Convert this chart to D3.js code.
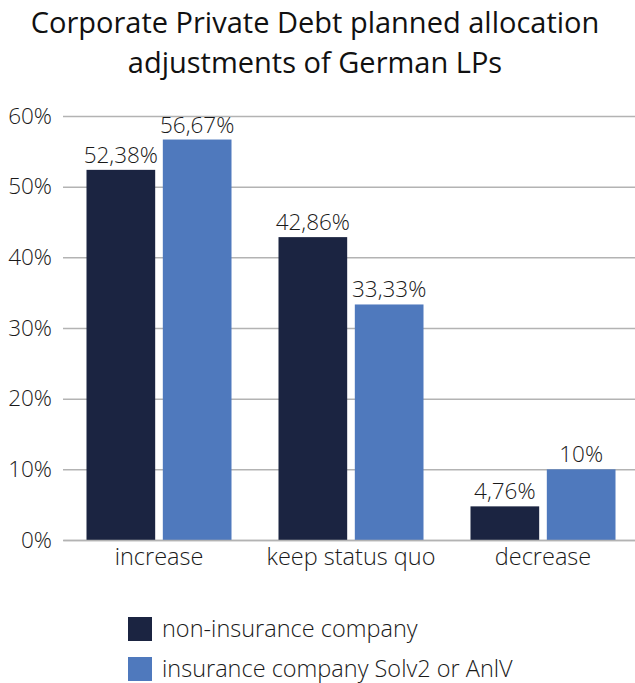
<!DOCTYPE html>
<html>
<head>
<meta charset="utf-8">
<script src="https://cdn.jsdelivr.net/npm/d3@7"></script>
<style>
  html, body { margin: 0; padding: 0; background: #fff; }
  svg { display: block; font-family: "Open Sans", "Noto Sans", sans-serif; }
</style>
</head>
<body>
<svg id="chart" width="635" height="683"></svg>
<script>
// Chart data
const titleLines = ["Corporate Private Debt planned allocation", "adjustments of German LPs"];
const categories = ["increase", "keep status quo", "decrease"];
const seriesNames = ["non-insurance company", "insurance company Solv2 or AnlV"];
const nonInsurance = [52.38, 42.86, 4.76];
const insurance = [56.67, 33.33, 10];
const valueLabels = [["52,38%", "42,86%", "4,76%"], ["56,67%", "33,33%", "10%"]];
const yTicks = [0, 10, 20, 30, 40, 50, 60];
const colors = ["#1b2441", "#4f79bd"];

const svg = d3.select("#chart");
const margin = { top: 116, bottom: 143, left: 63, right: -4 };
const W = 635, H = 683;
const textColor = "#1a1a1a";

const x0 = d3.scaleBand().domain(categories).range([margin.left, W - margin.right]).paddingInner(0).paddingOuter(0);
const x1 = d3.scaleBand().domain([0, 1]).range([23.5, x0.bandwidth() - 23.5]).paddingInner(0.1);
const y = d3.scaleLinear().domain([0, 60]).range([H - margin.bottom, margin.top]);

// Title
svg.append("g").selectAll("text").data(titleLines).join("text")
  .attr("x", 315).attr("y", (d, i) => 33 + i * 40)
  .attr("text-anchor", "middle")
  .attr("font-size", 29).attr("fill", "#111")
  .text(d => d);

// Gridlines and y tick labels
const yAxis = svg.append("g").attr("transform", `translate(${margin.left},0)`)
  .call(d3.axisLeft(y).tickValues(yTicks).tickFormat(d => d + "%").tickSize(-(W - margin.left)).tickPadding(11));
yAxis.select(".domain").remove();
yAxis.selectAll(".tick line").attr("stroke", "#b3b3b3").attr("stroke-width", 1.5);
yAxis.selectAll(".tick text").attr("font-size", 22.5).attr("font-weight", 300).attr("fill", textColor)
  .attr("font-family", "'Open Sans', 'Noto Sans', sans-serif");

// Bars
const series = [nonInsurance, insurance];
const groups = svg.append("g").selectAll("g").data(categories).join("g")
  .attr("transform", d => `translate(${x0(d)},0)`);

groups.selectAll("rect").data((c, ci) => series.map((s, si) => ({ si, v: s[ci], ci })))
  .join("rect")
  .attr("x", d => x1(d.si))
  .attr("width", x1.bandwidth())
  .attr("y", d => y(d.v))
  .attr("height", d => y(0) - y(d.v))
  .attr("fill", d => colors[d.si]);

groups.selectAll("text.val").data((c, ci) => series.map((s, si) => ({ si, v: s[ci], ci })))
  .join("text").attr("class", "val")
  .attr("x", d => x1(d.si) + x1.bandwidth() / 2)
  .attr("y", d => y(d.v) - 7)
  .attr("text-anchor", "middle")
  .attr("font-size", 22.5).attr("font-weight", 300).attr("fill", textColor)
  .text(d => valueLabels[d.si][d.ci]);

// Category axis labels
const xAxis = svg.append("g").attr("transform", `translate(0,${y(0)})`)
  .call(d3.axisBottom(x0).tickSize(0).tickPadding(8));
xAxis.select(".domain").attr("stroke", "#b3b3b3").attr("stroke-width", 1.5);
xAxis.selectAll(".tick text").attr("font-size", 23.5).attr("font-weight", 300).attr("fill", textColor)
  .attr("font-family", "'Open Sans', 'Noto Sans', sans-serif");

// Legend
const legend = svg.append("g").selectAll("g").data(seriesNames).join("g")
  .attr("transform", (d, i) => `translate(128,${617 + i * 40})`);
legend.append("rect").attr("width", 24).attr("height", 24).attr("fill", (d, i) => colors[i]);
legend.append("text").attr("x", 34).attr("y", 20)
  .attr("font-size", 23.5).attr("font-weight", 300).attr("fill", textColor)
  .text(d => d);
</script>
</body>
</html>
